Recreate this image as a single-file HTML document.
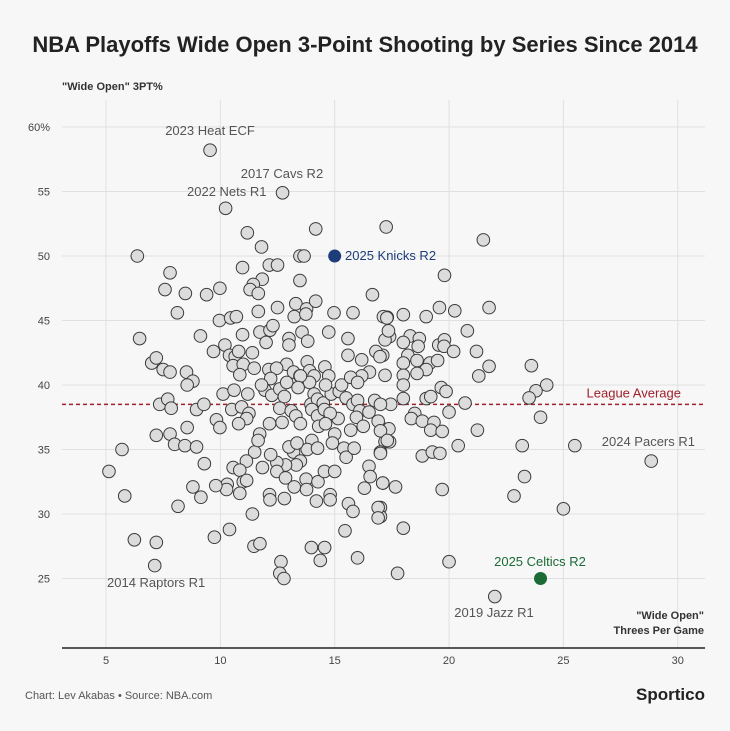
<!DOCTYPE html>
<html><head><meta charset="utf-8"><style>
body{margin:0;background:#f7f7f7;font-family:"Liberation Sans",sans-serif}
svg{display:block}
</style></head><body>
<svg id="chart" width="730" height="731" viewBox="0 0 730 731" xmlns="http://www.w3.org/2000/svg">
<rect width="730" height="731" fill="#f7f7f7"/>
<text x="365" y="52" text-anchor="middle" font-size="22" font-weight="bold" fill="#222">NBA Playoffs Wide Open 3-Point Shooting by Series Since 2014</text>
<text x="62" y="90" font-size="11" font-weight="bold" fill="#333">"Wide Open" 3PT%</text>
<g id="grid"></g>
<g id="ticks"></g>
<g id="avg"></g>
<g id="pts"></g>
<g id="labels"></g>
<text x="704" y="619" text-anchor="end" font-size="11" font-weight="bold" fill="#333">"Wide Open"</text>
<text x="704" y="634" text-anchor="end" font-size="11" font-weight="bold" fill="#333">Threes Per Game</text>
<text x="25" y="699" font-size="11" fill="#555">Chart: Lev Akabas • Source: NBA.com</text>
<text x="705" y="700" text-anchor="end" font-size="17" font-weight="bold" fill="#222">Sportico</text>
</svg>
<script>
const xTicks=[5,10,15,20,25,30];
const yTicks=[25,30,35,40,45,50,55,60];
const leagueAvg=38.5;
const xs=[28.84,17.25,21.5,19.8,19.58,20.25,21.75,18.0,19.0,17.3,20.8,17.4,18.3,18.0,18.7,18.65,19.55,19.8,19.78,20.2,17.1,18.2,18.0,18.6,19.16,19.5,19.0,18.6,21.2,21.75,21.3,23.6,17.2,18.0,18.0,24.27,23.8,23.5,19.66,19.87,18.0,19.0,19.2,17.45,20.7,18.5,18.35,18.83,19.34,20.0,24.0,17.1,17.37,19.2,19.7,21.24,17.2,17.4,17.0,18.83,19.27,19.6,20.4,23.2,25.5,23.3,17.1,17.66,19.7,22.84,25.0,17.0,17.0,18.0,20.0,17.75,22.0,
9.55,12.72,10.23,14.17,11.18,11.8,6.37,13.48,13.66,10.97,12.14,12.5,7.8,11.83,11.44,13.48,7.58,8.47,9.4,9.98,11.3,11.66,16.65,8.12,9.96,10.45,10.7,11.66,12.5,13.3,13.77,14.17,13.23,13.74,14.97,15.8,17.13,17.28,6.47,9.13,10.97,11.73,12.17,12.3,12.0,13.0,13.0,13.57,13.82,14.74,15.58,17.2,17.35,9.7,10.2,10.4,10.65,10.8,11.4,10.56,11.0,11.48,12.12,12.9,13.8,14.57,15.58,16.18,16.8,16.98,16.52,16.18,7.0,7.2,7.5,7.8,10.85,12.46,13.2,13.48,13.9,14.74,14.1,
8.52,8.8,8.55,7.35,7.7,7.85,8.96,9.28,10.12,10.6,11.2,10.5,10.93,11.25,11.15,10.8,9.83,9.98,11.95,12.25,12.6,12.8,12.6,13.1,13.3,13.5,12.7,12.15,13.9,13.5,14.1,13.96,14.25,14.5,14.0,14.25,14.55,14.85,15.2,15.5,15.8,16.0,16.1,16.5,16.75,17.0,15.15,14.8,15.95,15.7,16.25,16.9,17.0,17.3,14.3,14.6,15.0,14.9,15.4,15.5,15.85,14.0,13.8,14.25,13.2,13.0,13.35,13.5,13.32,12.85,12.47,12.2,12.47,12.85,13.23,13.75,13.77,14.27,14.55,15.0,14.2,14.8,14.8,15.6,15.8,15.45,16.0,11.5,11.72,11.65,11.14,10.56,10.85,11.0,11.15,11.84,12.15,12.17,12.8,10.85,10.3,10.27,9.8,11.4,10.4,9.74,11.47,11.73,12.65,12.6,12.78,13.98,14.56,14.37,17.0,16.5,16.55,16.3,17.1,16.9,16.9,5.7,5.13,5.82,6.24,7.2,7.13,8.15,8.8,9.15,9.3,7.2,7.8,8.0,8.45,8.96,8.55,12.9,13.4,15.3,15.7,16.0,14.6,12.2,11.8];
const ys=[34.1,52.25,51.25,48.5,46.0,45.75,46.0,45.45,45.3,45.25,44.2,43.75,43.8,43.3,43.6,43.0,43.1,43.5,43.0,42.6,42.3,42.3,41.7,41.9,41.7,41.9,41.2,40.9,42.6,41.45,40.7,41.5,40.75,40.75,40.0,40.0,39.55,39.0,39.8,39.5,38.95,38.95,39.1,38.5,38.6,37.8,37.4,37.2,37.1,37.9,37.5,36.6,36.6,36.5,36.4,36.5,35.6,35.6,34.8,34.5,34.8,34.7,35.3,35.3,35.3,32.9,32.4,32.1,31.9,31.4,30.4,30.5,29.8,28.9,26.3,25.4,23.6,
58.2,54.9,53.7,52.1,51.8,50.7,50.0,50.0,50.0,49.1,49.3,49.3,48.7,48.2,47.8,48.1,47.4,47.1,47.0,47.5,47.4,47.1,47.0,45.6,45.0,45.2,45.3,45.7,46.0,46.3,45.9,46.5,45.3,45.5,45.6,45.6,45.3,45.2,43.6,43.8,43.9,44.1,44.25,44.6,43.3,43.6,43.1,44.1,43.4,44.1,43.6,43.5,44.2,42.6,43.1,42.3,42.2,42.6,42.5,41.5,41.6,41.3,41.2,41.6,41.8,41.4,42.3,41.95,42.6,42.2,41.0,40.7,41.7,42.1,41.2,41.0,40.8,41.3,41.0,40.7,41.1,40.7,40.7,
41.0,40.3,40.0,38.5,38.9,38.2,38.1,38.5,39.3,39.6,39.3,38.1,38.3,37.8,37.4,37.0,37.3,36.7,39.6,39.2,39.7,39.1,38.2,38.0,37.6,37.0,37.1,37.0,40.2,40.7,39.3,38.5,38.9,38.6,38.1,37.6,38.1,39.3,39.5,39.0,38.5,38.8,38.0,37.9,38.8,38.5,37.4,37.8,37.5,36.5,36.8,37.2,36.45,35.7,36.8,37.0,36.2,35.5,35.1,34.4,35.1,35.7,35.0,35.1,34.8,35.2,35.5,34.1,33.8,33.8,34.0,34.6,33.3,32.8,32.1,32.7,31.9,32.5,33.3,33.3,31.0,31.5,31.1,30.8,30.2,28.7,26.6,34.8,36.2,35.7,34.1,33.6,33.4,32.5,32.6,33.6,31.5,31.1,31.2,31.6,32.3,31.9,32.2,30.0,28.8,28.2,27.5,27.7,26.3,25.4,25.0,27.4,27.4,26.4,34.7,33.7,32.9,32.0,32.4,30.5,29.7,35.0,33.3,31.4,28.0,27.8,26.0,30.6,32.1,31.3,33.9,36.1,36.2,35.4,35.3,35.2,36.7,40.2,39.8,40.0,40.6,40.2,40.0,40.5,40.0];
const knicks=[15,50], celtics=[24,25];
const X=v=>106+(v-5)*22.87, Y=v=>127+(60-v)*12.9;
const NS="http://www.w3.org/2000/svg";
function mk(tag,attrs,parent,txt){const e=document.createElementNS(NS,tag);for(const k in attrs)e.setAttribute(k,attrs[k]);if(txt!==undefined)e.textContent=txt;document.getElementById(parent).appendChild(e);return e;}
xTicks.forEach(t=>{
 const l=mk('line',{x1:X(t),x2:X(t),y1:100,y2:648,stroke:'#e0e0e0','stroke-width':1},'grid');
 
 
 const tx=mk('text',{x:X(t),y:664,'text-anchor':'middle','font-size':11,fill:'#444'},'ticks',String(t));
 
 
});
yTicks.forEach(t=>{
 const l=mk('line',{x1:62,x2:705,y1:Y(t),y2:Y(t),stroke:'#e0e0e0','stroke-width':1},'grid');
 
 
 const tx=mk('text',{x:50,y:Y(t)+4,'text-anchor':'end','font-size':11,fill:'#444'},'ticks',t===60?'60%':String(t));
 
 
});
const ax=mk('line',{x1:62,x2:705,y1:648,y2:648,stroke:'#222','stroke-width':1.5},'ticks');


const al=mk('line',{x1:62,x2:705,y1:Y(leagueAvg),y2:Y(leagueAvg),stroke:'#a0212b','stroke-width':1.5,'stroke-dasharray':'4,3'},'avg');


const at=mk('text',{x:681,y:Y(leagueAvg)-7,'text-anchor':'end','font-size':13,fill:'#a0212b'},'avg','League Average');


for(let i=0;i<xs.length;i++){
 const c=mk('circle',{cx:X(xs[i]),cy:Y(ys[i]),r:6.3,fill:'#dcdcdc',stroke:'#3a3a3a','stroke-width':1},'pts');
 
 
}
const kc=mk('circle',{cx:X(knicks[0]),cy:Y(knicks[1]),r:6.5,fill:'#1d3c7a'},'pts');


const cc=mk('circle',{cx:X(celtics[0]),cy:Y(celtics[1]),r:6.5,fill:'#1a6b36'},'pts');


const labs=[['2023 Heat ECF',210,135,'middle','#555'],['2017 Cavs R2',282,178,'middle','#555'],['2022 Nets R1',187,196,'start','#555'],['2025 Knicks R2',345,260,'start','#1d3c7a'],['2024 Pacers R1',695,446,'end','#555'],['2025 Celtics R2',540,566,'middle','#1a6b36'],['2019 Jazz R1',494,617,'middle','#555'],['2014 Raptors R1',107,587,'start','#555']];
labs.forEach(l=>{
 const t=mk('text',{x:l[1],y:l[2],'text-anchor':l[3],'font-size':13,fill:l[4]},'labels',l[0]);
 
 
});
</script>
</body></html>
